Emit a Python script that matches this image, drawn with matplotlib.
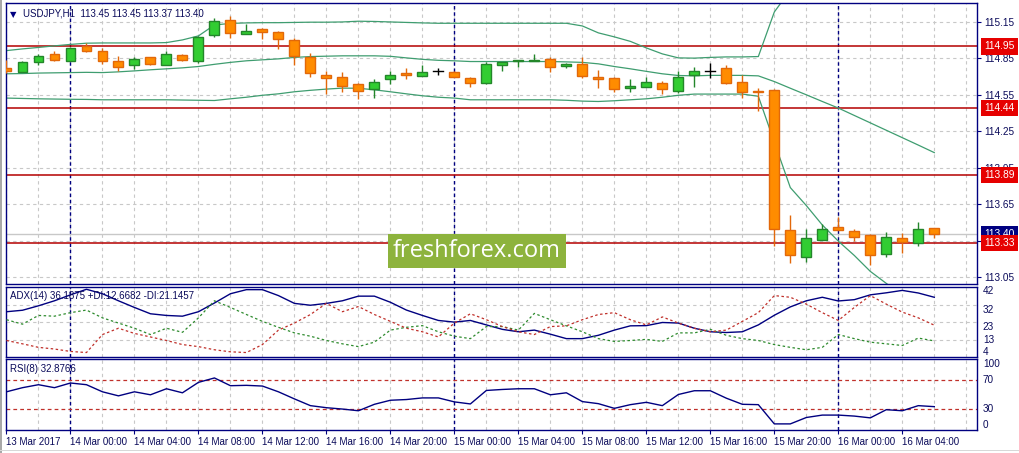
import numpy as np
import matplotlib
matplotlib.use("Agg")
import matplotlib.pyplot as plt
from matplotlib.patches import Rectangle

# ---- data (USDJPY H1, 13 Mar 20:00 .. 16 Mar 06:00) ----
opens = [114.77, 114.74, 114.82, 114.887, 114.832, 114.955, 114.914, 114.83, 114.794, 114.86,
         114.794, 114.877, 114.83, 115.041, 115.164, 115.049, 115.09, 115.07, 115.00, 114.86,
         114.712, 114.696, 114.64, 114.597, 114.679, 114.731, 114.704, 114.742, 114.737, 114.687,
         114.646, 114.794, 114.827, 114.827, 114.843, 114.79, 114.802, 114.696, 114.687, 114.605,
         114.613, 114.646, 114.585, 114.712, 114.747, 114.77, 114.659, 114.585, 114.591, 113.435,
         113.217, 113.353, 113.463, 113.43, 113.392, 113.241, 113.373, 113.332, 113.45]
highs = [114.84, 114.83, 114.885, 114.912, 114.947, 114.975, 114.934, 114.871, 114.86, 114.865,
         114.912, 114.887, 115.035, 115.18, 115.199, 115.134, 115.098, 115.076, 115.016, 114.893,
         114.742, 114.737, 114.651, 114.679, 114.742, 114.77, 114.797, 114.77, 114.742, 114.696,
         114.82, 114.82, 114.835, 114.885, 114.86, 114.815, 114.86, 114.753, 114.70, 114.679,
         114.696, 114.66, 114.75, 114.778, 114.815, 114.797, 114.715, 114.605, 114.597, 113.564,
         113.447, 113.482, 113.545, 113.441, 113.40, 113.419, 113.413, 113.503, 113.45]
lows = [114.73, 114.74, 114.795, 114.83, 114.83, 114.90, 114.805, 114.747, 114.764, 114.794,
        114.794, 114.83, 114.816, 115.029, 115.016, 115.049, 115.013, 114.926, 114.794, 114.70,
        114.556, 114.572, 114.515, 114.523, 114.638, 114.679, 114.704, 114.709, 114.693, 114.618,
        114.64, 114.742, 114.775, 114.827, 114.737, 114.77, 114.687, 114.61, 114.572, 114.572,
        114.613, 114.558, 114.564, 114.618, 114.687, 114.638, 114.523, 114.42, 113.304, 113.167,
        113.172, 113.353, 113.438, 113.345, 113.148, 113.217, 113.244, 113.304, 113.37]
closes = [114.75, 114.82, 114.873, 114.84, 114.934, 114.914, 114.832, 114.783, 114.843, 114.802,
          114.885, 114.84, 115.024, 115.156, 115.057, 115.074, 115.065, 115.008, 114.871, 114.731,
          114.687, 114.624, 114.585, 114.659, 114.715, 114.712, 114.737, 114.742, 114.693, 114.651,
          114.805, 114.82, 114.835, 114.835, 114.775, 114.80, 114.706, 114.682, 114.597, 114.624,
          114.657, 114.597, 114.70, 114.742, 114.747, 114.651, 114.569, 114.572, 113.447, 113.233,
          113.373, 113.447, 113.438, 113.381, 113.23, 113.381, 113.337, 113.441, 113.40]

bb_upper = [114.914, 114.928, 114.940, 114.953, 114.965, 114.975, 114.977, 114.977, 114.977, 114.977,
            114.980, 115.002, 115.035, 115.125, 115.138, 115.142, 115.144, 115.144, 115.146, 115.148,
            115.148, 115.150, 115.156, 115.154, 115.150, 115.146, 115.142, 115.139, 115.139, 115.139,
            115.139, 115.139, 115.139, 115.139, 115.139, 115.139, 115.117, 115.060, 115.027, 114.990,
            114.936, 114.887, 114.854, 114.852, 114.858, 114.862, 114.862, 114.865, 115.232, 115.413,
            115.462, 115.512, 115.536, 115.533, 115.543, 115.520, 115.495, 115.470, 115.446]
bb_mid = [114.723, 114.725, 114.729, 114.731, 114.733, 114.735, 114.733, 114.739, 114.747, 114.756,
          114.764, 114.772, 114.783, 114.801, 114.817, 114.830, 114.838, 114.846, 114.858, 114.865,
          114.868, 114.871, 114.871, 114.871, 114.867, 114.854, 114.842, 114.834, 114.830, 114.824,
          114.824, 114.824, 114.824, 114.824, 114.824, 114.821, 114.817, 114.805, 114.783, 114.764,
          114.743, 114.723, 114.709, 114.706, 114.710, 114.710, 114.710, 114.706, 114.659, 114.604,
          114.550, 114.495, 114.441, 114.380, 114.319, 114.258, 114.197, 114.136, 114.074]
bb_lower = [114.523, 114.520, 114.517, 114.515, 114.513, 114.512, 114.509, 114.509, 114.509, 114.509,
            114.509, 114.507, 114.505, 114.503, 114.517, 114.530, 114.546, 114.558, 114.575, 114.587,
            114.597, 114.605, 114.604, 114.591, 114.575, 114.558, 114.542, 114.530, 114.523, 114.509,
            114.509, 114.509, 114.509, 114.509, 114.509, 114.505, 114.498, 114.495, 114.501, 114.509,
            114.517, 114.530, 114.546, 114.556, 114.556, 114.556, 114.556, 114.538, 114.160, 113.786,
            113.638, 113.478, 113.345, 113.227, 113.096, 112.997, 112.899, 112.800, 112.701]

adx = [28.4, 29.2, 31.6, 34.3, 37.5, 40.5, 38.1, 34.3, 30.7, 27.3,
       26.4, 26.0, 28.4, 33.1, 38.1, 40.3, 40.3, 37.1, 32.9, 31.9,
       32.9, 34.3, 36.8, 36.8, 33.5, 29.3, 26.4, 23.7, 22.8, 23.7,
       21.3, 18.9, 17.6, 18.5, 16.3, 13.9, 13.9, 15.7, 18.5, 20.8,
       20.9, 22.6, 22.3, 19.5, 17.6, 17.2, 17.6, 21.3, 26.5, 31.0,
       34.3, 36.2, 34.2, 34.9, 37.5, 38.6, 39.9, 38.5, 36.19]
plus_di = [24.1, 21.7, 26.4, 26.0, 27.9, 29.3, 25.1, 22.3, 19.5, 16.1,
           19.5, 17.3, 25.1, 34.3, 30.7, 26.9, 23.2, 20.0, 17.0, 15.2,
           12.9, 11.1, 9.6, 12.0, 18.5, 20.0, 20.9, 17.6, 15.2, 13.9,
           20.4, 20.4, 18.5, 27.5, 24.1, 20.8, 17.6, 13.9, 12.4, 12.9,
           13.5, 12.4, 17.0, 17.0, 18.9, 15.7, 13.9, 12.9, 10.7, 9.2,
           7.9, 9.2, 16.1, 13.9, 12.0, 11.1, 10.2, 14.2, 12.67]
minus_di = [12.9, 11.1, 9.2, 8.3, 7.0, 6.4, 16.1, 19.5, 16.7, 14.8,
            12.9, 10.7, 9.6, 7.9, 6.8, 6.4, 10.7, 18.5, 22.3, 26.9,
            32.9, 28.4, 31.2, 26.9, 23.2, 19.5, 17.6, 14.8, 22.3, 27.3,
            24.1, 20.4, 17.6, 16.1, 20.4, 20.8, 24.1, 26.9, 27.9, 24.1,
            21.3, 25.6, 22.3, 19.5, 17.6, 18.5, 23.2, 27.9, 37.1, 36.2,
            32.5, 27.9, 23.7, 30.7, 37.1, 32.5, 28.2, 25.1, 21.15]
rsi = [53.8, 59.6, 63.8, 59.6, 66.2, 63.8, 53.8, 48.1, 53.8, 49.6,
       58.1, 52.4, 67.1, 73.3, 62.4, 62.9, 61.9, 53.8, 43.8, 34.3,
       31.4, 29.5, 27.1, 36.2, 41.9, 42.9, 45.2, 45.2, 39.6, 36.7,
       55.7, 57.1, 58.1, 58.1, 49.6, 52.4, 40.0, 37.1, 30.5, 35.7,
       39.0, 34.3, 50.0, 55.3, 55.3, 44.8, 36.2, 35.7, 8.6, 8.6,
       17.6, 21.0, 21.0, 19.6, 17.1, 28.6, 27.1, 34.3, 32.88]

time_labels = ["13 Mar 2017", "14 Mar 00:00", "14 Mar 04:00", "14 Mar 08:00", "14 Mar 12:00",
               "14 Mar 16:00", "14 Mar 20:00", "15 Mar 00:00", "15 Mar 04:00", "15 Mar 08:00",
               "15 Mar 12:00", "15 Mar 16:00", "15 Mar 20:00", "16 Mar 00:00", "16 Mar 04:00"]
day_starts = [4, 28, 52]
levels = [114.95, 114.44, 113.89, 113.33]
last_price = 113.40
price_ticks = [115.15, 114.85, 114.55, 114.25, 113.95, 113.65, 113.35, 113.05]
adx_levels = [32, 23, 13]
rsi_levels = [70, 30]

# ---- style ----
NAVY = "#000080"
TXT = "#0a0a5a"
GRID = "#c8c8c8"
BAND = "#3f9d70"
LEVEL = "#b40000"
BULL, BULL_E = "#32cd32", "#23862a"
BEAR, BEAR_E = "#ff8c00", "#e2680a"
plt.rcParams['font.family'] = ['Liberation Sans', 'DejaVu Sans']

W, H = 1019, 453
fig = plt.figure(figsize=(W / 100, H / 100), dpi=100, facecolor="white")


def axes_px(top, bottom):
    left, right = 6, 977
    return fig.add_axes([left / W, 1 - bottom / H, (right - left) / W, (bottom - top) / H])


ax = axes_px(3, 284)
ax_adx = axes_px(286.5, 357)
ax_rsi = axes_px(359, 430)

n = len(closes)
x = np.arange(n)
xlim = (-0.03, 60.67)

for a in (ax, ax_adx, ax_rsi):
    a.set_xlim(*xlim)
    for s in a.spines.values():
        s.set_color(NAVY)
        s.set_linewidth(1.0)
    a.yaxis.tick_right()
    a.tick_params(axis='y', direction='out', length=3, color=NAVY, labelcolor=TXT,
                  labelsize=7.2, pad=2, width=0.8)
    a.tick_params(axis='x', bottom=False, labelbottom=False)
    for gx in range(0, 62, 2):
        a.axvline(gx, color=GRID, lw=0.8, ls=(0, (3, 3)), zorder=0)
    for d in day_starts:
        a.axvline(d, color=NAVY, lw=1.0, ls=(0, (2.5, 2)), zorder=1)

# ---- main price panel ----
ax.set_ylim(112.992, 115.306)
ax.set_yticks(price_ticks)
ax.set_yticklabels(["" if t == 113.35 else f"{t:.2f}" for t in price_ticks])
for t in price_ticks:
    ax.axhline(t, color=GRID, lw=0.8, ls=(0, (3, 3)), zorder=0)

ax.axhline(last_price, color="#c8c8c8", lw=1.0, zorder=1)
for lv in levels:
    ax.axhline(lv, color=LEVEL, lw=1.1, zorder=2)

ax.plot(x, bb_upper, color=BAND, lw=0.9, zorder=2)
ax.plot(x, bb_mid, color=BAND, lw=0.9, zorder=2)
ax.plot(x, bb_lower, color=BAND, lw=0.9, zorder=2)

bw = 0.62
for i in range(n):
    o, h, l, c = opens[i], highs[i], lows[i], closes[i]
    if c > o:
        fc, ec = BULL, BULL_E
    elif c < o:
        fc, ec = BEAR, BEAR_E
    else:
        fc, ec = "black", "black"
    ax.plot([i, i], [l, h], color=ec, lw=1.0, zorder=3, solid_capstyle='butt')
    if c == o:
        ax.plot([i - bw / 2, i + bw / 2], [o, o], color=ec, lw=1.0, zorder=4)
    else:
        ax.add_patch(Rectangle((i - bw / 2, min(o, c)), bw, abs(c - o),
                               facecolor=fc, edgecolor=ec, lw=1.0, zorder=4))

ytr = ax.get_yaxis_transform()
box_kw = dict(transform=ytr, ha='left', va='center', fontsize=7.4, color='white',
              clip_on=False)
ax.text(1.0075, last_price, f"{last_price:.2f}", zorder=5, **box_kw,
        bbox=dict(boxstyle='square,pad=0.32', fc=NAVY, ec='none'))
for lv in levels:
    ax.text(1.0075, lv, f"{lv:.2f}", zorder=6, **box_kw,
            bbox=dict(boxstyle='square,pad=0.32', fc='#e60000', ec='none'))

ax.text(0.004, 0.975, "\u25BC", transform=ax.transAxes, fontsize=6, color=NAVY,
        va='top', ha='left', family=['DejaVu Sans'])
ax.text(0.017, 0.982, "USDJPY,H1  113.45 113.45 113.37 113.40", transform=ax.transAxes,
        fontsize=7, color=TXT, va='top', ha='left')

# ---- ADX panel ----
ax_adx.set_ylim(4, 42)
ax_adx.set_yticks(adx_levels)
ax_adx.set_yticklabels([])
ax_adx.tick_params(axis='y', length=0)
for t in adx_levels:
    ax_adx.axhline(t, color=GRID, lw=0.8, ls=(0, (3, 3)), zorder=0)
ax_adx.plot(x, adx, color=NAVY, lw=1.0, zorder=3)
ax_adx.plot(x, plus_di, color="#2e8b2e", lw=0.9, ls=(0, (2, 2)), zorder=3)
ax_adx.plot(x, minus_di, color="#c0302a", lw=0.9, ls=(0, (2, 2)), zorder=3)
atr = ax_adx.get_yaxis_transform()
for v in [42, 32, 23]:
    ax_adx.text(1.006, v, str(v), transform=atr, ha='left', va='top', fontsize=7.2,
                color=TXT, clip_on=False)
ax_adx.text(1.006, 13, "13", transform=atr, ha='left', va='center', fontsize=7.2,
            color=TXT, clip_on=False)
ax_adx.text(1.006, 4, "4", transform=atr, ha='left', va='bottom', fontsize=7.2,
            color=TXT, clip_on=False)
ax_adx.text(0.004, 0.93, "ADX(14) 36.1875 +DI:12.6682 -DI:21.1457", transform=ax_adx.transAxes,
            fontsize=7, color=TXT, va='top', ha='left')

# ---- RSI panel ----
ax_rsi.set_ylim(0, 100)
ax_rsi.set_yticks(rsi_levels)
ax_rsi.set_yticklabels([])
ax_rsi.tick_params(axis='y', length=0)
for lv in rsi_levels:
    ax_rsi.axhline(lv, color="#c0302a", lw=0.9, ls=(0, (3, 2.5)), zorder=1)
ax_rsi.plot(x, rsi, color=NAVY, lw=1.0, zorder=3)
rtr = ax_rsi.get_yaxis_transform()
ax_rsi.text(1.006, 100, "100", transform=rtr, ha='left', va='top', fontsize=7.2, color=TXT, clip_on=False)
ax_rsi.text(1.006, 70, "70", transform=rtr, ha='left', va='center', fontsize=7.2, color=TXT, clip_on=False)
ax_rsi.text(1.006, 30, "30", transform=rtr, ha='left', va='center', fontsize=7.2, color=TXT, clip_on=False)
ax_rsi.text(1.006, 0, "0", transform=rtr, ha='left', va='bottom', fontsize=7.2, color=TXT, clip_on=False)
ax_rsi.text(0.004, 0.93, "RSI(8) 32.8766", transform=ax_rsi.transAxes,
            fontsize=7, color=TXT, va='top', ha='left')

ax_rsi.set_xticks(range(0, 4 * len(time_labels), 4))
ax_rsi.set_xticklabels(time_labels, ha='left')
ax_rsi.tick_params(axis='x', bottom=True, labelbottom=True, direction='out', length=3,
                   color=NAVY, labelcolor=TXT, labelsize=7, pad=2, width=0.8)

# watermark
fig.text(477 / W, 1 - 251 / H, "freshforex.com", ha='center', va='center', fontsize=17,
         color='white', family=['Open Sans', 'DejaVu Sans'], zorder=10,
         bbox=dict(boxstyle='square,pad=0.22', fc='#8db33d', ec='none'))

# window border
fig.add_artist(Rectangle((0, 0), 2 / W, 1, transform=fig.transFigure, color="#a8a8a8", lw=0))
fig.add_artist(Rectangle((0, 1 - 451 / H), 1, 1 / H, transform=fig.transFigure, color="#d8d8d8", lw=0))

fig.savefig("out.png", dpi=100, facecolor="white")
